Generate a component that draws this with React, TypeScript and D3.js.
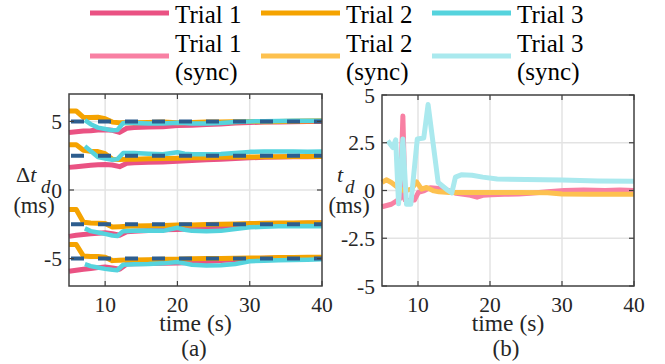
import React from 'react';
import * as d3 from 'd3';

// time grids (s)
const tLeft = [5, 6, 7, 8, 9, 10, 11, 12, 13, 14, 16, 18, 20, 22, 24, 26, 28, 30, 32, 34, 36, 38, 40];
const tLeftCyan = [7.2, 8, 9, 10, 11, 11.7, 12.5, 14, 16, 18, 20, 21, 22, 24, 26, 28, 30, 32, 34, 36, 38, 40];

// (a) delta t_d, one group per target offset
const targets = [5, 2.5, -2.5, -5];

const trial1_5 = [4.2, 4.25, 4.3, 4.32, 4.38, 4.4, 4.35, 4.2, 4.5, 4.55, 4.6, 4.62, 4.7, 4.72, 4.78, 4.82, 4.88, 4.92, 4.95, 4.96, 4.98, 5.0, 5.0];
const trial2_5 = [5.76, 5.76, 5.3, 5.28, 5.3, 5.2, 4.95, 4.9, 4.92, 4.9, 4.92, 4.95, 4.9, 4.92, 4.95, 4.95, 4.98, 5.0, 4.98, 5.0, 5.02, 5.03, 5.05];
const trial3_5 = [5.1, 4.8, 4.55, 4.45, 4.35, 4.38, 4.88, 4.88, 4.85, 4.85, 4.9, 4.88, 4.85, 4.85, 4.88, 4.95, 5.0, 5.02, 5.03, 5.05, 5.05, 5.05];

const trial1_25 = [1.65, 1.7, 1.75, 1.8, 1.84, 1.86, 1.82, 1.7, 1.95, 1.98, 2.02, 2.05, 2.1, 2.15, 2.2, 2.25, 2.3, 2.35, 2.38, 2.4, 2.42, 2.43, 2.45];
const trial2_25 = [3.3, 3.3, 2.9, 2.82, 2.8, 2.65, 2.25, 2.22, 2.25, 2.25, 2.28, 2.3, 2.32, 2.35, 2.35, 2.38, 2.4, 2.4, 2.42, 2.43, 2.45, 2.45, 2.45];
const trial3_25 = [3.2, 2.85, 2.4, 2.3, 2.2, 2.25, 2.7, 2.7, 2.65, 2.6, 2.75, 2.65, 2.6, 2.6, 2.62, 2.7, 2.78, 2.8, 2.8, 2.8, 2.78, 2.8];

const trial1_m25 = [-3.38, -3.3, -3.25, -3.2, -3.15, -3.12, -3.18, -3.3, -3.05, -3.0, -2.95, -2.9, -2.88, -2.82, -2.75, -2.68, -2.6, -2.55, -2.5, -2.48, -2.45, -2.42, -2.4];
const trial2_m25 = [-1.42, -1.42, -2.35, -2.4, -2.42, -2.45, -2.7, -2.68, -2.65, -2.62, -2.6, -2.58, -2.55, -2.55, -2.52, -2.5, -2.48, -2.45, -2.42, -2.4, -2.4, -2.38, -2.38];
const trial3_m25 = [-2.8, -3.0, -3.1, -3.2, -3.32, -3.35, -3.0, -2.98, -2.95, -2.98, -2.75, -2.9, -2.98, -3.0, -2.98, -2.85, -2.72, -2.68, -2.65, -2.65, -2.62, -2.65];

const trial1_m5 = [-5.93, -5.85, -5.78, -5.72, -5.66, -5.62, -5.68, -5.78, -5.4, -5.38, -5.36, -5.35, -5.32, -5.28, -5.22, -5.15, -5.08, -5.02, -4.98, -4.96, -4.95, -4.95, -4.95];
const trial2_m5 = [-3.97, -3.97, -4.82, -4.85, -4.85, -4.9, -5.15, -5.12, -5.1, -5.1, -5.08, -5.05, -5.05, -5.02, -5.0, -5.0, -4.98, -4.95, -4.95, -4.92, -4.92, -4.9, -4.9];
const trial3_m5 = [-5.4, -5.55, -5.65, -5.75, -5.82, -5.85, -5.45, -5.42, -5.4, -5.35, -5.25, -5.35, -5.45, -5.5, -5.48, -5.4, -5.2, -5.15, -5.12, -5.1, -5.08, -5.05];

// (b) t_d of the synced runs
const tSync1 = [5, 6.3, 7.2, 7.55, 7.9, 8.2, 8.6, 9.5, 10.05, 10.9, 11.7, 12.5, 13.6, 15.3, 17.3, 18.2, 19, 20.2, 22, 24, 25.6, 28, 30.3, 33, 36, 38, 40];
const sync1 = [-0.85, -0.72, -0.5, -0.4, 3.9, -0.5, -0.52, -0.5, -0.1, 0.0, 0.15, 0.12, 0.08, -0.15, -0.25, -0.35, -0.25, -0.22, -0.2, -0.18, -0.15, -0.07, 0.0, 0.02, 0.0, 0.02, 0.0];
const tSync2 = [5, 5.6, 6.3, 7.2, 8.1, 9.1, 9.8, 10.5, 11.2, 12.2, 12.9, 14.4, 16, 20, 24, 28, 30, 34, 40];
const sync2 = [0.42, 0.56, 0.42, 0.16, -0.02, 0.07, 0.45, 0.07, 0.16, -0.02, -0.07, -0.1, -0.1, -0.1, -0.1, -0.12, -0.18, -0.2, -0.2];
const tSync3 = [5.8, 6.5, 6.9, 7.3, 7.9, 8.4, 9.0, 9.9, 10.8, 11.4, 12.8, 14.0, 14.7, 15.2, 16, 17.5, 19, 21, 25, 30, 35, 40];
const sync3 = [2.6, 2.25, 2.65, -0.7, 2.7, -0.72, -0.72, 2.7, 2.75, 4.5, 0.42, 0.05, -0.12, 0.7, 0.82, 0.8, 0.7, 0.6, 0.58, 0.55, 0.5, 0.48];

const xTicks = [10, 20, 30, 40];
const yTicksA = [-5, 0, 5];
const yTicksB = [-5, -2.5, 0, 2.5, 5];

const legendLabels = ['Trial 1', 'Trial 2', 'Trial 3'];
const colors = ['#ea5283', '#f5a300', '#55d3dd'];
const syncColors = ['#f880a3', '#fdc14f', '#aae9ee'];

const FONT = 'Times New Roman';
const AXIS = '#404040';
const GRID = '#e3e3e3';
const INK = '#262626';

const zip = (t, v) => t.map((d, i) => [d, v[i]]);

const Panel = ({ left, right, top, bottom, yDomain, yTicks, children }) => {
  const x = d3.scaleLinear().domain([5, 40]).range([left, right]);
  const y = d3.scaleLinear().domain(yDomain).range([bottom, top]);
  const line = d3.line().x(d => x(d[0])).y(d => y(d[1]));
  return (
    <g>
      {xTicks.filter(t => t < 40).map(t => (
        <line key={'gx' + t} x1={x(t)} x2={x(t)} y1={top} y2={bottom} stroke={GRID} strokeWidth={1.5} />
      ))}
      {yTicks.filter(v => v > yDomain[0] && v < yDomain[1]).map(v => (
        <line key={'gy' + v} x1={left} x2={right} y1={y(v)} y2={y(v)} stroke={GRID} strokeWidth={1.5} />
      ))}
      {children(x, y, line)}
      <rect x={left} y={top} width={right - left} height={bottom - top} fill="none" stroke={AXIS} strokeWidth={1.5} />
      {xTicks.map(t => (
        <g key={'tx' + t}>
          <line x1={x(t)} x2={x(t)} y1={bottom} y2={bottom - 5} stroke={AXIS} strokeWidth={1.2} />
          <line x1={x(t)} x2={x(t)} y1={top} y2={top + 5} stroke={AXIS} strokeWidth={1.2} />
          <text x={x(t)} y={bottom + 26} textAnchor="middle" fontSize={21.5} fontFamily={FONT} fill={INK}>{t}</text>
        </g>
      ))}
      {yTicks.map(v => (
        <g key={'ty' + v}>
          <line x1={left} x2={left + 5} y1={y(v)} y2={y(v)} stroke={AXIS} strokeWidth={1.2} />
          <line x1={right} x2={right - 5} y1={y(v)} y2={y(v)} stroke={AXIS} strokeWidth={1.2} />
          <text x={left - 7} y={y(v) + 7.5} textAnchor="end" fontSize={21.5} fontFamily={FONT} fill={INK}>{String(v)}</text>
        </g>
      ))}
      <text x={(left + right) / 2} y={331} textAnchor="middle" fontSize={23.5} fontFamily={FONT} fill={INK}>time (s)</text>
    </g>
  );
};

export default function App() {
  const groupsA = [
    [trial1_5, trial2_5, trial3_5],
    [trial1_25, trial2_25, trial3_25],
    [trial1_m25, trial2_m25, trial3_m25],
    [trial1_m5, trial2_m5, trial3_m5],
  ];
  const syncSeries = [zip(tSync1, sync1), zip(tSync2, sync2), zip(tSync3, sync3)];
  const legendX = [90, 261, 432];

  return (
    <svg width={665} height={364} style={{ position: 'absolute', left: 0, top: 0, background: '#fff' }}>
      {/* legend */}
      {legendLabels.map((lab, i) => (
        <g key={lab}>
          <line x1={legendX[i]} x2={legendX[i] + 79} y1={13} y2={13} stroke={colors[i]} strokeWidth={5} />
          <text x={legendX[i] + 85} y={23} fontSize={25} fontFamily={FONT} fill="#000">{lab}</text>
          <line x1={legendX[i]} x2={legendX[i] + 79} y1={56} y2={56} stroke={syncColors[i]} strokeWidth={5} />
          <text x={legendX[i] + 85} y={52} fontSize={25} fontFamily={FONT} fill="#000">{lab}</text>
          <text x={legendX[i] + 85} y={80} fontSize={25} fontFamily={FONT} fill="#000">(sync)</text>
        </g>
      ))}

      {/* (a) */}
      <Panel left={69} right={322} top={94} bottom={286} yDomain={[-7, 7]} yTicks={yTicksA}>
        {(x, y, line) => (
          <g>
            {groupsA.map((g, gi) => (
              <g key={gi}>
                <path d={line(zip(tLeft, g[0]))} fill="none" stroke={colors[0]} strokeWidth={5} strokeLinejoin="round" />
                <path d={line(zip(tLeft, g[1]))} fill="none" stroke={colors[1]} strokeWidth={5} strokeLinejoin="round" />
                <path d={line(zip(tLeftCyan, g[2]))} fill="none" stroke={colors[2]} strokeWidth={4.5} strokeLinejoin="round" />
              </g>
            ))}
            {targets.map(v => (
              <line key={v} x1={x(5)} x2={x(40)} y1={y(v)} y2={y(v)} stroke="#2d5d8e" strokeWidth={4} strokeDasharray="13 14" strokeDashoffset={-2} />
            ))}
          </g>
        )}
      </Panel>

      {/* (b) */}
      <Panel left={382} right={634} top={95} bottom={286} yDomain={[-5, 5]} yTicks={yTicksB}>
        {(x, y, line) => (
          <g>
            {syncSeries.map((s, i) => (
              <path key={i} d={line(s)} fill="none" stroke={syncColors[i]} strokeWidth={5} strokeLinejoin="round" />
            ))}
          </g>
        )}
      </Panel>

      {/* y labels */}
      <text x={16} y={182} fontSize={22} fontFamily={FONT} fill={INK}>Δ<tspan fontStyle="italic">t</tspan></text>
      <text x={41} y={193} fontSize={19} fontFamily={FONT} fontStyle="italic" fill={INK}>d</text>
      <text x={34} y={213} textAnchor="middle" fontSize={22.5} fontFamily={FONT} fill={INK}>(ms)</text>

      <text x={337} y={182} fontSize={22} fontFamily={FONT} fontStyle="italic" fill={INK}>t</text>
      <text x={345} y={193} fontSize={19} fontFamily={FONT} fontStyle="italic" fill={INK}>d</text>
      <text x={349} y={213} textAnchor="middle" fontSize={22.5} fontFamily={FONT} fill={INK}>(ms)</text>

      {/* captions */}
      <text x={194} y={356} textAnchor="middle" fontSize={23} fontFamily={FONT} fill={INK}>(a)</text>
      <text x={506} y={356} textAnchor="middle" fontSize={23} fontFamily={FONT} fill={INK}>(b)</text>
    </svg>
  );
}
